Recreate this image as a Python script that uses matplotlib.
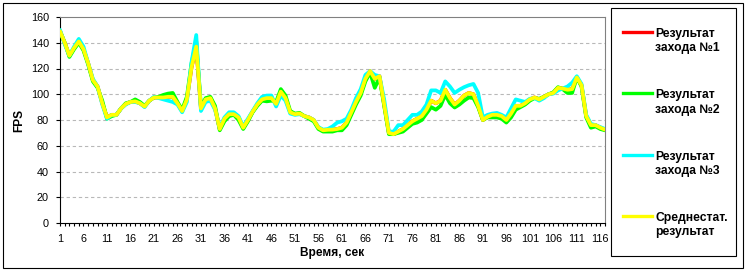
import matplotlib
matplotlib.use('Agg')
import matplotlib.pyplot as plt
from matplotlib.lines import Line2D
from matplotlib.patches import Rectangle

plt.rcParams['font.family'] = ['Liberation Sans', 'DejaVu Sans']

# секунды теста
seconds = list(range(1, 118))

# Среднестат. результат
avg = [149, 140, 130, 136, 141, 135, 124, 111, 106, 93,
       82, 84, 84, 89, 92.5, 94, 94.5, 93, 90.5, 95,
       97.5, 97.5, 97.5, 98, 98, 93, 87, 96, 121, 137,
       89, 96, 97, 89, 73, 81, 84.5, 84.5, 82, 74,
       80, 86.5, 92, 96, 97, 97, 92.5, 102, 97, 86,
       84.5, 85, 83, 82, 80, 74, 72, 72.4, 72.5, 73,
       74, 78, 86, 94, 101, 112, 118, 112, 114, 92,
       70, 69, 71, 73, 76, 79, 81, 83, 88, 95,
       93, 95, 103.5, 97, 92, 95, 99, 101, 100, 91,
       80, 82.5, 84, 84, 83, 80, 85, 91, 91, 93,
       96, 97.5, 96, 98, 100, 101, 105, 104.5, 103.5, 104,
       113, 107, 83, 76, 76, 74, 72.5]

# Результат захода №1 (полностью под средней линией)
run1 = [149, 140, 130, 136, 141, 135, 124, 111, 106, 93,
        82, 84, 84, 89, 92.5, 94, 94.5, 93, 90.5, 95,
        97.5, 97.5, 97.5, 98, 98, 93, 87, 96, 121, 137,
        89, 96, 97, 89, 73, 81, 84.5, 84.5, 82, 74,
        80, 86.5, 92, 96, 97, 97, 92.5, 102, 97, 86,
        84.5, 85, 83, 82, 80, 74, 72, 72.4, 72.5, 73,
        74, 78, 86, 94, 101, 112, 118, 112, 114, 92,
        70, 69, 71, 73, 76, 79, 81, 83, 88, 95,
        93, 95, 103.5, 97, 92, 95, 99, 101, 100, 91,
        80, 82.5, 84, 84, 83, 80, 85, 91, 91, 93,
        96, 97.5, 96, 98, 100, 101, 105, 104.5, 103.5, 104,
        113, 107, 83, 76, 76, 74, 72.5]

# Результат захода №2
run2 = [149, 140, 129, 135, 140, 134, 123, 110, 105, 95,
        81, 83, 84, 89, 93, 94, 96, 94, 91, 95,
        97.5, 98, 99.5, 100.5, 101, 94, 88, 98, 124, 141,
        90, 97, 98, 91, 72, 79, 83, 84, 80, 73,
        79, 86, 91, 95, 94.5, 95, 94, 104, 99, 87,
        85, 85.5, 83, 81, 79, 73, 71, 71, 71, 72,
        72, 76, 84, 92, 99, 110, 117, 105, 113, 91,
        69, 69, 70, 71, 74, 77, 78, 80, 85, 90,
        88, 91, 99.6, 93, 89.7, 92, 95, 97.5, 97, 90,
        80, 82, 82, 82, 81, 78, 82, 88, 90, 92,
        95, 97, 96.5, 98, 100, 101.5, 105.5, 104, 101, 101,
        113, 106, 82, 74, 75, 73, 72]

# Результат захода №3
run3 = [150, 139, 130, 137, 143, 137, 124, 112, 106, 92,
        81, 84, 84, 89, 92, 94, 94, 93, 90, 95,
        98, 97, 96, 95, 94, 92, 86, 94, 125, 146,
        87, 94, 95, 88, 74, 82, 86, 86, 83, 75,
        81, 87, 93, 98, 99, 99, 90.5, 99, 95, 85,
        84, 84.5, 83, 82, 80, 74.5, 72.5, 73, 75, 78,
        79, 81, 88, 97, 104, 115, 118, 115, 114, 96,
        71, 71, 76, 76, 80, 84, 84, 86.6, 92, 103,
        103, 101, 110, 106, 101, 103.5, 105.5, 107, 108, 101,
        82, 84, 85, 85.5, 84, 82, 89, 96, 95, 94,
        96.5, 97, 95, 97, 100, 100.5, 103, 104.5, 106, 109,
        114, 108, 84, 77, 76, 74.5, 73]

series = [
    (run1, '#ff0000', ['Результат', 'захода №1']),
    (run2, '#00ff00', ['Результат', 'захода №2']),
    (run3, '#00ffff', ['Результат', 'захода №3']),
    (avg, '#ffff00', ['Среднестат.', 'результат']),
]

W, H = 747, 271


def fx(px):
    return px / W


def fy(py):
    return 1 - py / H


fig = plt.figure(figsize=(W / 100, H / 100), dpi=100)
fig.patch.set_facecolor('white')

# рамка всей диаграммы
fig.add_artist(Rectangle((fx(3), fy(268)), fx(740), 265 / H, transform=fig.transFigure,
                         fill=False, edgecolor='black', lw=0.8))

ax = fig.add_axes([fx(60), fy(223), fx(545), 206 / H])
for data, color, _ in series:
    ax.plot(seconds, data, color=color, lw=2.7, solid_joinstyle='round',
            solid_capstyle='round', zorder=3)

ax.set_xlim(1, 117)
ax.set_ylim(0, 160)
ax.set_yticks(range(0, 161, 20))
ax.set_xticks(seconds)
ax.set_xticklabels([str(s) if (s - 1) % 5 == 0 else '' for s in seconds])
ax.tick_params(axis='both', direction='out', labelsize=7.8, colors='black', width=0.8)
ax.tick_params(axis='y', length=3, pad=5)
ax.tick_params(axis='x', length=2.2, pad=6)

for y in range(20, 160, 20):
    ax.axhline(y, color='#b8b8b8', lw=0.8, linestyle=(0, (3, 2.5)), zorder=1)

ax.spines['left'].set_color('black')
ax.spines['bottom'].set_color('black')
ax.spines['top'].set_color('#808080')
ax.spines['right'].set_color('#808080')
for s in ax.spines.values():
    s.set_linewidth(0.8)

fig.text(fx(19), fy(120), 'FPS', rotation=90, ha='center', va='center',
         fontsize=8.6, fontweight='bold')
fig.text(fx(332), fy(253), 'Время, сек', ha='center', va='center',
         fontsize=8.6, fontweight='bold')

# легенда
fig.add_artist(Rectangle((fx(611), fy(256)), fx(125), 248 / H, transform=fig.transFigure,
                         fill=False, edgecolor='black', lw=0.8))
for k, (_, color, label) in enumerate(series):
    ly = 32 + k * 61.3
    fig.add_artist(Line2D([fx(623), fx(652)], [fy(ly), fy(ly)], transform=fig.transFigure,
                          color=color, lw=2.4))
    fig.text(fx(655), fy(ly + 5), label[0], ha='left', va='baseline',
             fontsize=8.7, fontweight='bold')
    fig.text(fx(655), fy(ly + 19.5), label[1], ha='left', va='baseline',
             fontsize=8.7, fontweight='bold')

fig.savefig('out.png', dpi=100)
